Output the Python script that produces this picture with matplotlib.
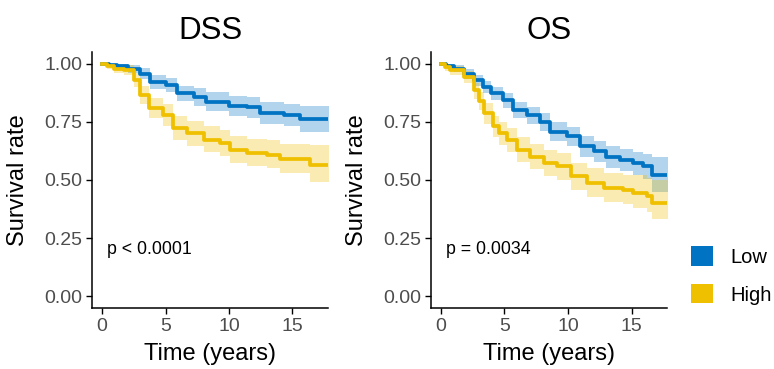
import matplotlib
matplotlib.use("Agg")
import matplotlib.pyplot as plt
from matplotlib.patches import Patch

plt.rcParams['font.family'] = ['Liberation Sans', 'DejaVu Sans']

LOW_COLOR = '#0073C2'
HIGH_COLOR = '#EFC000'
X_END = 18.0

# DSS - Low group (time in years, survival, lower/upper CI)
dss_low_t = [0, 0.5, 1.2, 2.0, 3.0, 3.8, 5.0, 5.9, 7.2, 8.2, 10.0, 11.4, 12.4, 14.3, 15.6]
dss_low_s = [1.0, 0.995, 0.99, 0.978, 0.957, 0.92, 0.907, 0.872, 0.858, 0.836, 0.818, 0.812, 0.787, 0.78, 0.761]
dss_low_lo = [1.0, 0.99, 0.975, 0.958, 0.932, 0.89, 0.876, 0.838, 0.82, 0.796, 0.776, 0.768, 0.742, 0.733, 0.706]
dss_low_hi = [1.0, 1.0, 1.0, 0.995, 0.982, 0.95, 0.938, 0.906, 0.895, 0.876, 0.86, 0.855, 0.833, 0.828, 0.818]

# DSS - High group
dss_high_t = [0, 0.4, 0.9, 1.7, 2.5, 3.0, 3.7, 4.8, 5.6, 6.7, 8.0, 9.3, 10.1, 11.4, 13.0, 14.0, 16.4]
dss_high_s = [1.0, 0.99, 0.979, 0.972, 0.929, 0.865, 0.808, 0.78, 0.723, 0.70, 0.673, 0.659, 0.63, 0.616, 0.609, 0.59, 0.566]
dss_high_lo = [1.0, 0.975, 0.96, 0.95, 0.9, 0.825, 0.765, 0.733, 0.672, 0.648, 0.62, 0.603, 0.575, 0.56, 0.55, 0.53, 0.491]
dss_high_hi = [1.0, 1.0, 0.995, 0.992, 0.96, 0.905, 0.852, 0.826, 0.775, 0.755, 0.73, 0.716, 0.69, 0.678, 0.672, 0.655, 0.652]

# OS - Low group
os_low_t = [0, 0.4, 1.0, 1.8, 2.6, 3.3, 3.9, 4.9, 5.7, 6.75, 7.8, 8.6, 9.9, 10.9, 12.0, 13.0, 14.1, 15.1, 15.9, 16.6]
os_low_s = [1.0, 0.99, 0.979, 0.955, 0.929, 0.90, 0.872, 0.844, 0.80, 0.78, 0.751, 0.708, 0.687, 0.644, 0.623, 0.60, 0.587, 0.573, 0.559, 0.523]
os_low_lo = [1.0, 0.98, 0.962, 0.935, 0.905, 0.872, 0.842, 0.81, 0.765, 0.742, 0.712, 0.668, 0.645, 0.6, 0.578, 0.553, 0.538, 0.522, 0.505, 0.448]
os_low_hi = [1.0, 1.0, 0.995, 0.975, 0.952, 0.926, 0.9, 0.875, 0.834, 0.815, 0.79, 0.748, 0.728, 0.688, 0.668, 0.647, 0.635, 0.622, 0.61, 0.60]

# OS - High group
os_high_t = [0, 0.3, 0.7, 1.8, 2.6, 3.0, 3.4, 4.1, 4.6, 5.2, 6.0, 7.0, 8.1, 9.1, 10.2, 11.5, 12.8, 14.3, 15.1, 16.2, 16.6]
os_high_s = [1.0, 0.985, 0.972, 0.943, 0.886, 0.84, 0.787, 0.73, 0.70, 0.673, 0.63, 0.60, 0.573, 0.559, 0.516, 0.488, 0.467, 0.459, 0.445, 0.431, 0.40]
os_high_lo = [1.0, 0.97, 0.95, 0.915, 0.85, 0.8, 0.742, 0.683, 0.65, 0.62, 0.578, 0.548, 0.518, 0.502, 0.458, 0.428, 0.405, 0.396, 0.38, 0.364, 0.331]
os_high_hi = [1.0, 1.0, 0.99, 0.968, 0.918, 0.878, 0.83, 0.776, 0.748, 0.724, 0.683, 0.653, 0.628, 0.615, 0.575, 0.55, 0.53, 0.523, 0.52, 0.51, 0.50]

panels = [
    ('DSS', 'p < 0.0001',
     [(dss_low_t, dss_low_s, dss_low_lo, dss_low_hi, LOW_COLOR),
      (dss_high_t, dss_high_s, dss_high_lo, dss_high_hi, HIGH_COLOR)]),
    ('OS', 'p = 0.0034',
     [(os_low_t, os_low_s, os_low_lo, os_low_hi, LOW_COLOR),
      (os_high_t, os_high_s, os_high_lo, os_high_hi, HIGH_COLOR)]),
]

fig = plt.figure(figsize=(7.74, 3.69), dpi=100)
ax_pos = [[0.1189, 0.1653, 0.3049, 0.6938],
          [0.5565, 0.1653, 0.3056, 0.6938]]

for pos, (title, ptext, groups) in zip(ax_pos, panels):
    ax = fig.add_axes(pos)
    for t, s, lo, hi, col in groups:
        # extend the last step to the end of the window
        tt = list(t) + [X_END]
        ss = list(s) + [s[-1]]
        ll = list(lo) + [lo[-1]]
        hh = list(hi) + [hi[-1]]
        ax.fill_between(tt, ll, hh, step='post', color=col, alpha=0.3, lw=0)
        ax.step(tt, ss, where='post', color=col, lw=2.7)

    ax.set_xlim(-0.8, 17.8)
    ax.set_ylim(-0.05, 1.05)
    ax.set_xticks([0, 5, 10, 15])
    ax.set_yticks([0, 0.25, 0.5, 0.75, 1.0])
    ax.set_yticklabels(['0.00', '0.25', '0.50', '0.75', '1.00'])
    ax.tick_params(labelsize=14, labelcolor='#4D4D4D', length=4, width=1.0, pad=3)
    for side in ['top', 'right']:
        ax.spines[side].set_visible(False)
    for side in ['left', 'bottom']:
        ax.spines[side].set_linewidth(1.1)

    ax.set_title(title, fontsize=22.5, pad=9)
    ax.set_ylabel('Survival rate', fontsize=17)
    ax.set_xlabel('Time (years)', fontsize=17)
    ax.yaxis.set_label_coords(-0.265, 0.5)
    ax.xaxis.set_label_coords(0.5, -0.135)
    ax.text(0.4, 0.2, ptext, fontsize=12.8, ha='left', va='center')

handles = [Patch(facecolor=LOW_COLOR, edgecolor='none', label='Low'),
           Patch(facecolor=HIGH_COLOR, edgecolor='none', label='High')]
fig.legend(handles=handles, loc='center left', bbox_to_anchor=(691 / 774, 0.2534),
           frameon=False, fontsize=14.5, handlelength=1.1, handleheight=1.1,
           handletextpad=0.85, labelspacing=0.85, borderpad=0, borderaxespad=0)

fig.savefig('out.png', dpi=100)
